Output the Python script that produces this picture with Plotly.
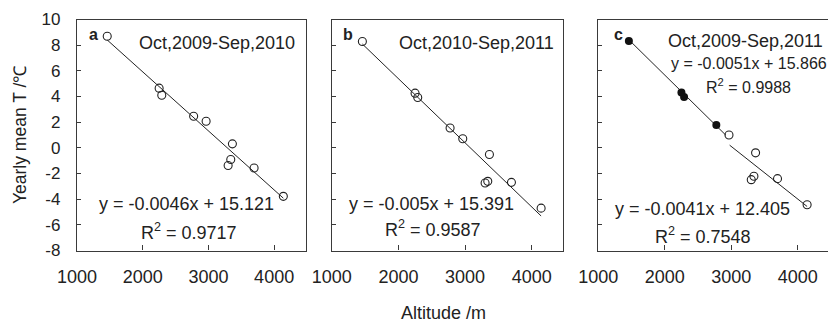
import plotly.graph_objects as go

# Station altitudes (m), shared by all three periods
altitude = [1460, 2250, 2290, 2775, 2965, 3300, 3340, 3365, 3695, 4140]

# Yearly mean temperature (°C) per period
temp_a = [8.69, 4.65, 4.10, 2.46, 2.07, -1.38, -0.91, 0.31, -1.57, -3.78]
temp_b = [8.28, 4.26, 3.92, 1.54, 0.71, -2.74, -2.61, -0.52, -2.69, -4.70]
temp_c = [8.33, 4.31, 3.97, 1.78, 1.00, -2.48, -2.22, -0.39, -2.40, -4.43]
n_filled_c = 4  # first stations in panel c drawn as filled markers

# Regression fits (slope, intercept, R², x-from, x-to)
fit_a = (-0.0046, 15.121, 0.9717, 1460, 4140)
fit_b = (-0.005, 15.391, 0.9587, 1460, 4140)
fit_c_low = (-0.0051, 15.866, 0.9988, 1460, 2920)
fit_c_high = (-0.0041, 12.405, 0.7548, 2975, 4140)

periods = ["Oct,2009-Sep,2010", "Oct,2010-Sep,2011", "Oct,2009-Sep,2011"]
letters = ["a", "b", "c"]

x_ticks = [1000, 2000, 3000, 4000]
x_ticktext = ["1000", "2000", "3000", "4000"]
y_ticks = [-8, -6, -4, -2, 0, 2, 4, 6, 8, 10]
y_ticktext = ["-8", "-6", "-4", "-2", "0", "2", "4", "6", "8", "10"]

INK = "#222222"
AXIS = "#3a3a3a"
FONT = "Liberation Sans, Arial, sans-serif"

fig = go.Figure()


def hollow(x, y, ax):
    fig.add_trace(go.Scatter(
        x=x, y=y, mode="markers", xaxis=ax[0], yaxis=ax[1],
        marker=dict(symbol="circle-open", size=8, color=INK, line=dict(width=1.1)),
        showlegend=False, hoverinfo="skip"))


def filled(x, y, ax):
    fig.add_trace(go.Scatter(
        x=x, y=y, mode="markers", xaxis=ax[0], yaxis=ax[1],
        marker=dict(symbol="circle", size=8, color="#111111"),
        showlegend=False, hoverinfo="skip"))


def fit_line(fit, ax):
    k, b, _, x0, x1 = fit
    fig.add_trace(go.Scatter(
        x=[x0, x1], y=[k * x0 + b, k * x1 + b], mode="lines",
        xaxis=ax[0], yaxis=ax[1], line=dict(color="#222222", width=1),
        showlegend=False, hoverinfo="skip"))


axes = [("x", "y"), ("x2", "y2"), ("x3", "y3")]

fit_line(fit_a, axes[0])
hollow(altitude, temp_a, axes[0])

fit_line(fit_b, axes[1])
hollow(altitude, temp_b, axes[1])

fit_line(fit_c_low, axes[2])
fit_line(fit_c_high, axes[2])
hollow(altitude[n_filled_c:], temp_c[n_filled_c:], axes[2])
filled(altitude[:n_filled_c], temp_c[:n_filled_c], axes[2])


def eq_text(fit):
    k, b, _, _, _ = fit
    return f"y = {k:g}x + {b:g}"


def r2_text(fit):
    return f"R<sup>2</sup> = {fit[2]:.4f}"


W, H = 828, 324
y_dom = [1 - 250.5 / H, 1 - 19.5 / H]
x_doms = [[77 / W, 306 / W], [331.7 / W, 563 / W], [598.3 / W, 1.0]]
x_ranges = [[1000, 4485], [1000, 4468], [1000, 4454]]

layout = dict(
    template="none",
    width=W, height=H,
    margin=dict(l=0, r=0, t=0, b=0, pad=0),
    paper_bgcolor="white", plot_bgcolor="white",
    font=dict(family=FONT, color=INK),
    showlegend=False,
)

for i in range(3):
    sx = "" if i == 0 else str(i + 1)
    layout["xaxis" + sx] = dict(
        domain=x_doms[i], range=x_ranges[i], anchor="y" + sx,
        automargin=False,
        tickmode="array", tickvals=x_ticks, ticktext=x_ticktext,
        ticks="inside", ticklen=5, tickcolor=AXIS, tickwidth=1,
        showline=True, linecolor=AXIS, linewidth=1.3, mirror=True,
        showgrid=False, zeroline=False,
        tickfont=dict(size=18, color=INK, family=FONT), ticklabelstandoff=10,
    )
    layout["yaxis" + sx] = dict(
        domain=y_dom, range=[-8, 10], anchor="x" + sx,
        automargin=False,
        tickmode="array", tickvals=y_ticks, ticktext=y_ticktext,
        ticks="inside", ticklen=4, tickcolor=AXIS, tickwidth=1,
        showline=True, linecolor=AXIS, linewidth=1.3,
        mirror=(i < 2),
        showgrid=False, zeroline=False,
        showticklabels=(i == 0),
        tickfont=dict(size=17, color=INK, family=FONT), ticklabelstandoff=12,
    )

fig.update_layout(**layout)

ann = []


def label(text, xr, yr, x, y, size=18, **kw):
    ann.append(dict(text=text, xref=xr, yref=yr, x=x, y=y, showarrow=False,
                    xanchor="center", yanchor="middle",
                    font=dict(size=size, color=INK, family=FONT), **kw))


# panel letters
label("<b>a</b>", "x", "y", 1245, 8.8, size=16)
label("<b>b</b>", "x2", "y2", 1240, 8.8, size=16)
label("<b>c</b>", "x3", "y3", 1310, 8.8, size=16)

# period headings
label(periods[0], "x", "y", 3131, 8.2)
label(periods[1], "x2", "y2", 3174, 8.2)
label(periods[2], "x3", "y3", 3213, 8.36)

# fit equations
label(eq_text(fit_a), "x", "y", 2670, -4.37)
label(r2_text(fit_a), "x", "y", 2705, -6.55)
label(eq_text(fit_b), "x2", "y2", 2500, -4.4)
label(r2_text(fit_b), "x2", "y2", 2519, -6.3)
label(eq_text(fit_c_low), "x3", "y3", 3266, 6.54, size=16)
label(r2_text(fit_c_low), "x3", "y3", 3266, 4.84, size=16)
label(eq_text(fit_c_high), "x3", "y3", 2567, -4.79)
label(r2_text(fit_c_high), "x3", "y3", 2567, -6.85)

# axis titles
label("Altitude /m", "paper", "paper", 443 / W, 1 - 313 / H, size=18)
label("Yearly mean T /℃", "paper", "paper", 20 / W, 1 - 135 / H, size=17.5,
      textangle=-90)

fig.update_layout(annotations=ann)

fig.write_html("out.html")
